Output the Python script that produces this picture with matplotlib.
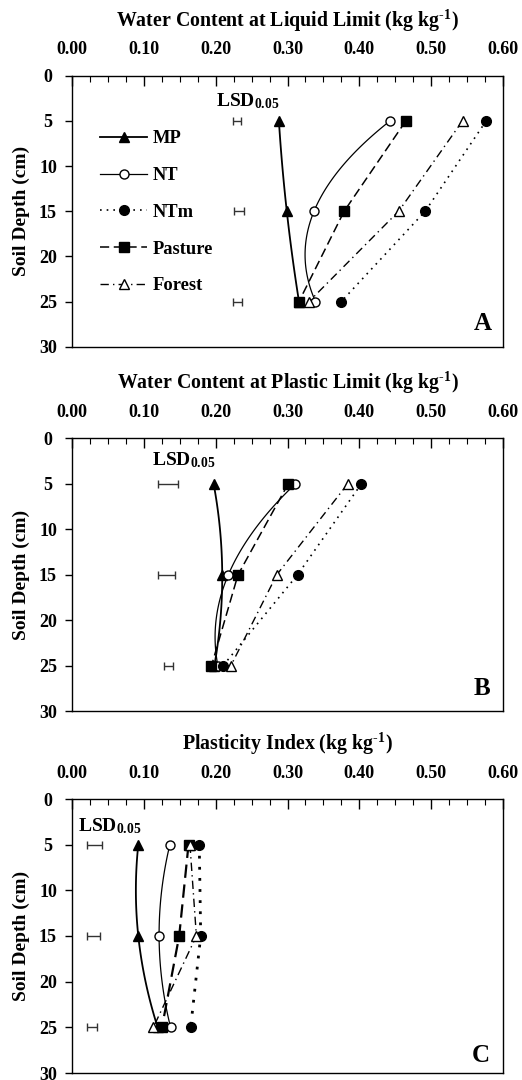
import numpy as np
import matplotlib
matplotlib.use("Agg")
import matplotlib.pyplot as plt
from matplotlib.lines import Line2D
from matplotlib.ticker import MultipleLocator, FormatStrFormatter

plt.rcParams['font.family'] = ['Liberation Serif', 'DejaVu Serif']
plt.rcParams['font.weight'] = 'bold'
plt.rcParams['mathtext.fontset'] = 'custom'
plt.rcParams['mathtext.rm'] = 'Liberation Serif:bold'
plt.rcParams['mathtext.bf'] = 'Liberation Serif:bold'
plt.rcParams['mathtext.it'] = 'Liberation Serif:bold'

# ---------------- data ----------------
depth = [5, 15, 25]
series_names = ['MP', 'NT', 'NTm', 'Pasture', 'Forest']

# Panel A: water content at liquid limit (kg/kg)
LL_MP = [0.288, 0.299, 0.316]
LL_NT = [0.443, 0.337, 0.339]
LL_NTm = [0.577, 0.492, 0.375]
LL_Pasture = [0.465, 0.379, 0.316]
LL_Forest = [0.544, 0.455, 0.330]
LL_lsd_left = [0.2245, 0.2250, 0.2245]
LL_lsd = [0.011, 0.014, 0.0125]

# Panel B: water content at plastic limit (kg/kg)
PL_MP = [0.197, 0.209, 0.198]
PL_NT = [0.311, 0.2175, 0.203]
PL_NTm = [0.403, 0.314, 0.210]
PL_Pasture = [0.301, 0.231, 0.194]
PL_Forest = [0.384, 0.285, 0.221]
PL_lsd_left = [0.120, 0.120, 0.128]
PL_lsd = [0.027, 0.023, 0.013]

# Panel C: plasticity index (kg/kg)
PI_MP = [0.092, 0.092, 0.119]
PI_NT = [0.136, 0.121, 0.137]
PI_NTm = [0.177, 0.179, 0.165]
PI_Pasture = [0.162, 0.149, 0.125]
PI_Forest = [0.164, 0.173, 0.113]
PI_lsd_left = [0.021, 0.021, 0.021]
PI_lsd = [0.021, 0.018, 0.014]

x_ticks = [0.0, 0.1, 0.2, 0.3, 0.4, 0.5, 0.6]
y_ticks = [0, 5, 10, 15, 20, 25, 30]
titles = ['Water Content at Liquid Limit (kg kg$\\mathregular{^{\u2010}}$$\\mathregular{^{1}}$)',
          'Water Content at Plastic Limit (kg kg$\\mathregular{^{\u2010}}$$\\mathregular{^{1}}$)',
          'Plasticity Index (kg kg$\\mathregular{^{\u2010}}$$\\mathregular{^{1}}$)']
panel_letters = ['A', 'B', 'C']

# ---------------- styles ----------------
styles = {
    'MP': dict(ls='-', lw=1.3, marker='^', ms=7.5, mfc='black', smooth=True),
    'NT': dict(ls='-', lw=0.9, marker='o', ms=6.5, mfc='white', smooth=True),
    'NTm': dict(ls=(0, (1, 3)), lw=1.2, marker='o', ms=7, mfc='black', smooth=False),
    'Pasture': dict(ls=(0, (6, 3)), lw=1.1, marker='s', ms=6.5, mfc='black', smooth=False),
    'Forest': dict(ls=(0, (6, 3, 1, 3)), lw=1.0, marker='^', ms=7.5, mfc='white', smooth=False),
}
lw_override_C = {'NTm': 2.0, 'Pasture': 1.6}

fig = plt.figure(figsize=(5.22, 10.8), dpi=100)
W, H = 522.0, 1080.0
ax_left_px, ax_right_px = 72.3, 502.7
panels_px = [(75.7, 346.7), (438.3, 711.3), (799.0, 1073.0)]

panel_data = [
    [LL_MP, LL_NT, LL_NTm, LL_Pasture, LL_Forest],
    [PL_MP, PL_NT, PL_NTm, PL_Pasture, PL_Forest],
    [PI_MP, PI_NT, PI_NTm, PI_Pasture, PI_Forest],
]
lsd_left = [LL_lsd_left, PL_lsd_left, PI_lsd_left]
lsd_vals = [LL_lsd, PL_lsd, PI_lsd]
lsd_text_pos = [(0.2003, 3.35), (0.1107, 2.93), (0.008, 3.58)]
letter_pos = [(0.954, 0.086), (0.953, 0.083), (0.949, 0.063)]

FS = 13
for i in range(3):
    top_px, bot_px = panels_px[i]
    ax = fig.add_axes([ax_left_px / W, 1 - bot_px / H,
                       (ax_right_px - ax_left_px) / W, (bot_px - top_px) / H])
    ax.set_xlim(0, 0.6)
    ax.set_ylim(30, 0)
    ax.xaxis.tick_top()
    ax.xaxis.set_minor_locator(MultipleLocator(0.025))
    ax.set_xticks(x_ticks)
    ax.xaxis.set_major_formatter(FormatStrFormatter('%.2f'))
    ax.set_yticks(y_ticks)
    ax.tick_params(axis='x', which='major', direction='in', length=7, width=1,
                   pad=12.5, labelsize=FS, top=True, bottom=False)
    ax.tick_params(axis='x', which='minor', direction='in', length=4, width=0.8,
                   top=True, bottom=False)
    ax.tick_params(axis='y', which='major', direction='out', length=5, width=1,
                   pad=12.5, labelsize=FS, left=True, right=False)
    for lab in ax.get_yticklabels():
        lab.set_ha('center')
        lab.set_fontweight('bold')
    for lab in ax.get_xticklabels():
        lab.set_fontweight('bold')
    for sp in ax.spines.values():
        sp.set_linewidth(1.0)

    for name, vals in zip(series_names, panel_data[i]):
        st = styles[name]
        lw = st['lw']
        if i == 2 and name in lw_override_C:
            lw = lw_override_C[name]
        if st['smooth']:
            coef = np.polyfit(depth, vals, 2)
            yy = np.linspace(min(depth), max(depth), 120)
            ax.plot(np.polyval(coef, yy), yy, color='black', ls=st['ls'], lw=lw, zorder=2)
        else:
            ax.plot(vals, depth, color='black', ls=st['ls'], lw=lw, zorder=2)
        ax.plot(vals, depth, ls='none', marker=st['marker'], ms=st['ms'],
                mfc=st['mfc'], mec='black', mew=1.0, zorder=3)

    centers = [l + v / 2 for l, v in zip(lsd_left[i], lsd_vals[i])]
    halfs = [v / 2 for v in lsd_vals[i]]
    ax.errorbar(centers, depth, xerr=halfs, fmt='none', ecolor='#333333',
                elinewidth=1.0, capsize=3.0, capthick=1.0, zorder=2)
    tx, ty = lsd_text_pos[i]
    ax.text(tx, ty, 'LSD$\\mathregular{_{0.05}}$', fontsize=14, fontweight='bold',
            ha='left', va='baseline')

    ax.text(letter_pos[i][0], letter_pos[i][1], panel_letters[i], transform=ax.transAxes,
            fontsize=18, fontweight='bold', ha='center', va='center')

    ax.annotate(titles[i], xy=(0.5, 1), xycoords='axes fraction',
                xytext=(0, 55 * 0.72), textcoords='offset points',
                ha='center', va='center', fontsize=14.3, fontweight='bold')
    ax.annotate('Soil Depth (cm)', xy=(0, 0.5), xycoords='axes fraction',
                xytext=(-(ax_left_px - 21.7) * 0.72, 0), textcoords='offset points',
                ha='center', va='center', rotation=90, fontsize=14, fontweight='bold')

    if i == 0:
        handles = []
        for name in series_names:
            st = styles[name]
            handles.append(Line2D([], [], color='black', ls=st['ls'], lw=st['lw'],
                                  marker=st['marker'], ms=st['ms'], mfc=st['mfc'],
                                  mec='black', mew=1.0))
        ax.legend(handles, series_names, loc='center left',
                  bbox_to_anchor=((100 - ax_left_px) / (ax_right_px - ax_left_px), 0.496),
                  frameon=False, borderpad=0, borderaxespad=0, handlelength=2.55,
                  handletextpad=0.3, labelspacing=1.07, numpoints=1,
                  prop={'family': 'Liberation Serif', 'weight': 'bold', 'size': 13.3})

fig.savefig('out.png', dpi=100)
